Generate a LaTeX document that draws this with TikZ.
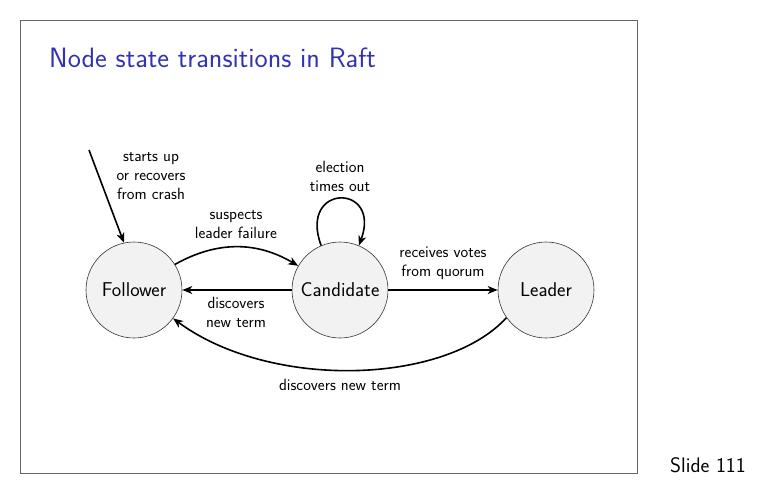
\documentclass[tikz,border=0pt]{standalone}
\usetikzlibrary{arrows.meta}
\definecolor{titleblue}{RGB}{51,51,178}
\definecolor{statefill}{RGB}{242,242,242}
\begin{document}
\begin{tikzpicture}[x=1pt,y=-1pt,
  state/.style={circle,draw=black!80,line width=0.6pt,fill=statefill,
    minimum size=96pt,inner sep=0pt,font=\sffamily\fontsize{20}{24}\selectfont},
  trans/.style={line width=1.6pt,-{Stealth[length=10pt,width=8pt,inset=3pt]}},
  lbl/.style={font=\sffamily\fontsize{16.3}{19}\selectfont,align=center,inner sep=0pt}]
\useasboundingbox (0,0) rectangle (778,495);
% slide frame
\draw[black!60,line width=0.6pt] (20,20) rectangle (637,473);
\node[anchor=base west,text=titleblue,font=\sffamily\fontsize{28}{32}\selectfont,inner sep=0pt] (title) at (49,67) {Node state transitions in Raft};
\node[anchor=base west,font=\sffamily\fontsize{21}{24}\selectfont,inner sep=0pt] (slideno) at (670,472) {Slide 111};
% states
\node[state] (fol) at (134,290) {Follower};
\node[state] (cand) at (340,290) {Candidate};
\node[state] (lead) at (546,290) {Leader};
\coordinate (start) at (89,150);
% transitions
\draw[trans] (start) -- (fol.102);
\draw[trans] (fol.32) to[bend left=30] (cand.150);
\draw[trans] (cand.west) -- (fol.east);
\draw[trans] (cand.113) .. controls (298,183) and (382,183) .. (cand.67);
\draw[trans] (cand.east) -- (lead.west);
\draw[trans] (lead.-145) .. controls (445,385) and (270,390) .. (fol.-36);
% labels
\node[lbl] (l1) at (151,176) {starts up\\or recovers\\from crash};
\node[lbl] (l2) at (236,225) {suspects\\leader failure};
\node[lbl] (l3) at (236,312) {discovers\\new term};
\node[lbl] (l4) at (340,176) {election\\times out};
\node[lbl] (l5) at (443,263) {receives votes\\from quorum};
\node[lbl] (l6) at (340,385) {discovers new term};
\end{tikzpicture}
\end{document}
